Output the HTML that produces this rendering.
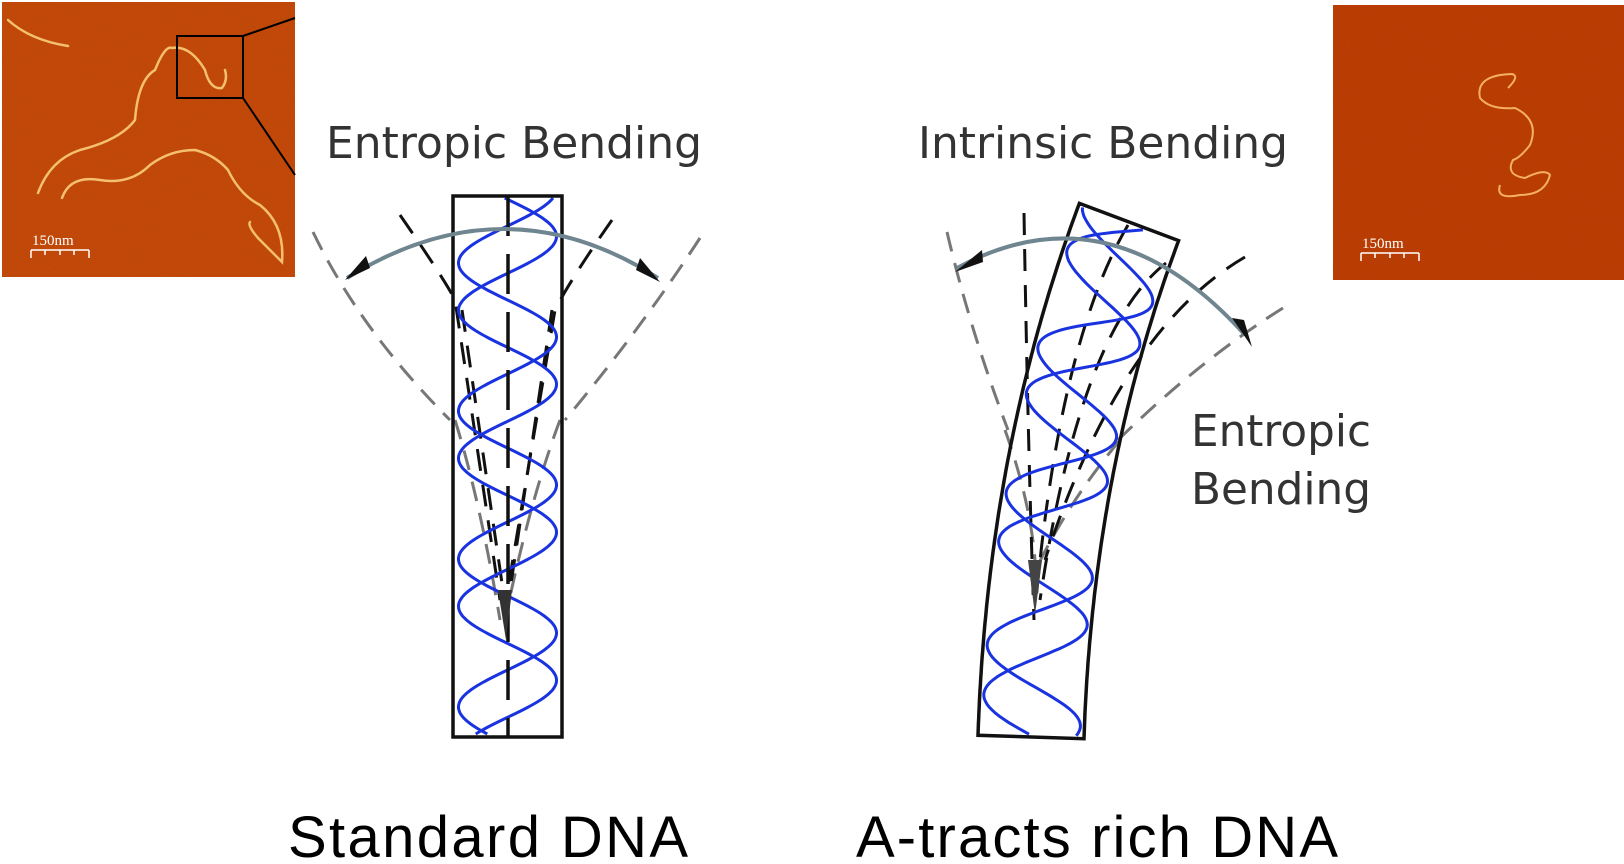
<!DOCTYPE html>
<html><head><meta charset="utf-8"><style>
html,body{margin:0;padding:0;background:#fff;width:1624px;height:864px;overflow:hidden}
svg{display:block}
text{font-family:"DejaVu Sans","Liberation Sans",sans-serif}
</style></head><body>
<svg id="s" width="1624" height="864" viewBox="0 0 1624 864" xmlns="http://www.w3.org/2000/svg">
<defs>
<filter id="n" x="0" y="0" width="100%" height="100%"><feTurbulence type="fractalNoise" baseFrequency="0.7" numOctaves="2" seed="3"/><feColorMatrix type="matrix" values="0 0 0 0 0.5  0 0 0 0 0.1  0 0 0 0 0.0  0 0 0 0.5 0"/></filter>
</defs>
<!-- left AFM -->
<rect x="2" y="2" width="293" height="275" fill="#c2420c"/>
<rect x="2" y="2" width="293" height="275" filter="url(#n)"/>
<g fill="none" stroke="#f4c070" stroke-width="2.5" stroke-linecap="round">
<path d="M8,20 Q30,40 68,46"/>
<path d="M38,193 Q50,160 80,150 Q120,140 135,120 Q138,80 155,70 Q165,45 172,48 Q190,45 205,70 Q210,90 222,88 Q228,80 225,70"/>
<path d="M62,198 Q70,175 100,180 Q130,185 150,165 Q170,150 195,150 Q215,155 228,170 Q240,195 260,205 Q285,225 282,262 Q270,250 258,238 Q247,225 250,222"/>
</g>
<rect x="177" y="36" width="66" height="62" fill="none" stroke="#000" stroke-width="2"/>
<line x1="243" y1="36" x2="295" y2="18" stroke="#000" stroke-width="2"/>
<line x1="243" y1="98" x2="295" y2="175" stroke="#000" stroke-width="2"/>
<text x="32" y="245" font-size="15" fill="#fff" style="font-family:'Liberation Serif',serif">150nm</text>
<path d="M31,250 H89 M31,250 v8 M45,250 v5 M60,250 v5 M74,250 v5 M89,250 v8" stroke="#fff" stroke-width="1.5" fill="none"/>
<!-- right AFM -->
<rect x="1333" y="5" width="291" height="275" fill="#b83804"/>
<rect x="1333" y="5" width="291" height="275" filter="url(#n)" opacity="0.6"/>
<path d="M1508,88 Q1520,76 1512,74 Q1475,75 1480,98 Q1490,110 1515,108 Q1540,120 1530,145 Q1520,158 1513,160 Q1505,175 1525,178 Q1545,168 1550,175 Q1545,195 1520,195 Q1495,200 1500,185" fill="none" stroke="#f4b060" stroke-width="2"/>
<text x="1362" y="248" font-size="15" fill="#fff" style="font-family:'Liberation Serif',serif">150nm</text>
<path d="M1361,253 H1419 M1361,253 v8 M1375,253 v5 M1390,253 v5 M1404,253 v5 M1419,253 v8" stroke="#fff" stroke-width="1.5" fill="none"/>
<!-- labels -->
<text x="326" y="158" font-size="44" fill="#333" textLength="376" lengthAdjust="spacingAndGlyphs">Entropic Bending</text>
<text x="918" y="158" font-size="44" fill="#333" textLength="370" lengthAdjust="spacingAndGlyphs">Intrinsic Bending</text>
<text x="1191" y="446" font-size="44" fill="#333" textLength="180" lengthAdjust="spacingAndGlyphs">Entropic</text>
<text x="1191" y="504" font-size="44" fill="#333" textLength="180" lengthAdjust="spacingAndGlyphs">Bending</text>
<text x="288" y="857" font-size="58" fill="#000" textLength="400" style="font-family:'Liberation Sans',sans-serif">Standard DNA</text>
<text x="856" y="857" font-size="58" fill="#000" textLength="482" style="font-family:'Liberation Sans',sans-serif">A-tracts rich DNA</text>
<!-- left diagram gray arcs -->
<g fill="none" stroke="#777" stroke-width="3" stroke-dasharray="20,12">
<path d="M313,232 Q360,330 450,420"/>
<path d="M700,238 Q640,330 565,420"/>
<path d="M455,420 Q480,500 500,620"/>
<path d="M560,420 Q530,500 505,620"/>
</g>
<g fill="none" stroke="#111" stroke-width="3" stroke-dasharray="22,14">
<path d="M400,215 Q445,280 455,300 L500,600"/>
<path d="M612,220 Q570,280 555,310 L506,600"/>
<path d="M462,310 L503,590"/>
<path d="M552,310 L510,590"/>
</g>
<g id="lh"></g>
<rect x="453" y="196" width="109" height="541" fill="none" stroke="#111" stroke-width="3.5"/>
<line x1="508" y1="196" x2="508" y2="737" stroke="#111" stroke-width="3.5" stroke-dasharray="40,18"/>
<path d="M498,590 L506,640 L512,590 Z" fill="#333"/>
<path d="M347,278 Q505,180 658,278" fill="none" stroke="#6f8590" stroke-width="4"/>
<path d="M345,280 L366,256 L370,268 Z M660,282 L640,258 L636,270 Z" fill="#111"/>
<!-- right diagram -->
<g fill="none" stroke="#777" stroke-width="3" stroke-dasharray="20,12">
<path d="M947,232 Q970,330 1008,430"/>
<path d="M1283,308 Q1200,360 1118,440"/>
<path d="M1005,430 Q1030,500 1035,560"/>
<path d="M1120,440 Q1070,500 1038,565"/>
</g>
<g fill="none" stroke="#111" stroke-width="3" stroke-dasharray="22,14">
<path d="M1024,213 Q1028,450 1034,620"/>
<path d="M1128,225 Q1060,340 1036,600"/>
<path d="M1166,263 Q1080,330 1040,600"/>
<path d="M1245,257 Q1120,330 1045,560"/>
</g>
<g id="rh"></g>
<path id="rb" fill="none" stroke="#111" stroke-width="3.5"/>
<path d="M1028,560 L1035,615 L1042,560 Z" fill="#444"/>
<path d="M957,268 Q1110,185 1245,335" fill="none" stroke="#6f8590" stroke-width="4"/>
<path d="M955,272 L982,250 L983,262 Z M1252,347 L1232,318 L1244,320 Z" fill="#111"/>
</svg>
<script>
var NS="http://www.w3.org/2000/svg";
function mk(p,d,c){var e=document.createElementNS(NS,"path");e.setAttribute("d",d);e.setAttribute("fill","none");e.setAttribute("stroke",c);e.setAttribute("stroke-width","3");document.getElementById(p).appendChild(e);}
var P=148;
[0,0.32].forEach(function(ph){var d="";for(var y=198;y<=735;y+=2){var x=507.5-49*Math.cos(2*Math.PI*((y-263)/P-ph));d+=(y==198?"M":"L")+x.toFixed(1)+","+y;}mk("lh",d,"#1a33e0");});
function C(t){var a=[1031,737],b=[1040,460],c=[1129,222];var u=1-t;
 return [u*u*a[0]+2*u*t*b[0]+t*t*c[0],u*u*a[1]+2*u*t*b[1]+t*t*c[1]];}
function N(t){var p=C(t),q=C(Math.min(1,t+0.001)),r=C(Math.max(0,t-0.001));var dx=q[0]-r[0],dy=q[1]-r[1],L=Math.hypot(dx,dy);return [p,[-dy/L,dx/L]];}
var W=53,l=[],rr=[];
for(var i=0;i<=100;i++){var t=i/100,k=N(t),p=k[0],n=k[1];l.push((p[0]-n[0]*W).toFixed(1)+","+(p[1]-n[1]*W).toFixed(1));rr.unshift((p[0]+n[0]*W).toFixed(1)+","+(p[1]+n[1]*W).toFixed(1));}
document.getElementById("rb").setAttribute("d","M"+l.concat(rr).join(" L")+" Z");
[0,0.32].forEach(function(ph){var d="";for(var i=1;i<=199;i++){var t=i/200,k=N(t),p=k[0],n=k[1];var s=530-t*530;var o=-49*Math.cos(2*Math.PI*(s/P-ph));d+=(i==1?"M":"L")+(p[0]+n[0]*o).toFixed(1)+","+(p[1]+n[1]*o).toFixed(1);}mk("rh",d,"#1a33e0");});
</script>
</body></html>
